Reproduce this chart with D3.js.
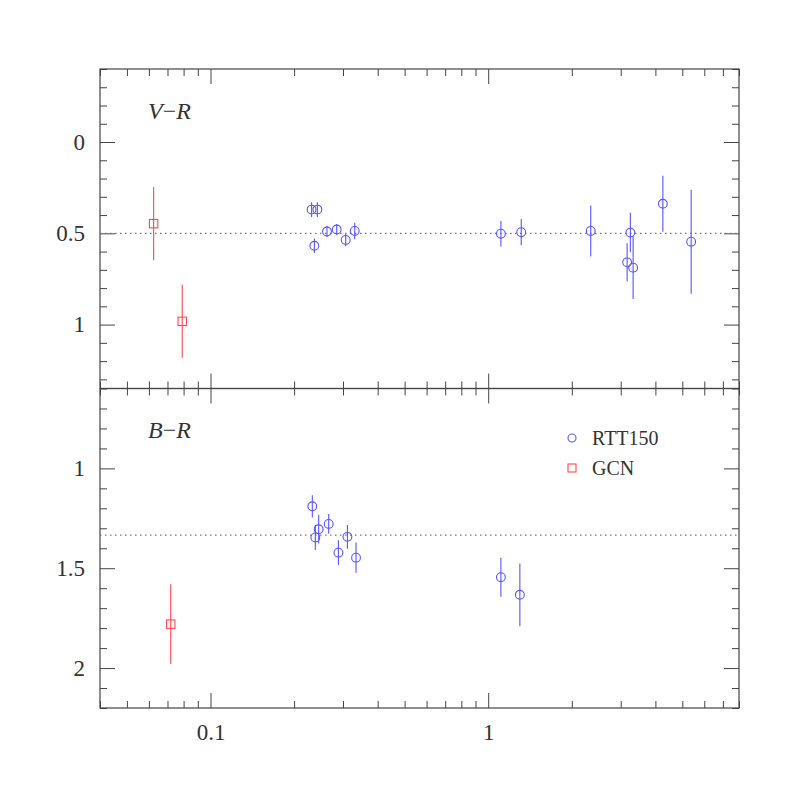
<!DOCTYPE html>
<html lang="en">
<head>
  <meta charset="UTF-8">
  <title>V-R and B-R colours</title>
  <style>
    body { margin: 0; background: #fff; }
    text { font-family: "Liberation Serif", "DejaVu Serif", "Times New Roman", serif; fill: #333; }
  </style>
</head>
<body>
  <svg id="chart" width="806" height="806"></svg>

  <script src="https://d3js.org/d3.v7.min.js"></script>

  <script>
    // ---- data ----
    // V-R panel
    var vrRttX   = [0.2312, 0.2425, 0.2366, 0.2627, 0.2847, 0.3068, 0.3306, 1.111, 1.315, 2.34, 3.25, 3.164, 3.325, 4.255, 5.38];
    var vrRttY   = [0.37, 0.37, 0.568, 0.49, 0.479, 0.536, 0.487, 0.502, 0.494, 0.487, 0.496, 0.659, 0.688, 0.338, 0.546];
    var vrRttErr = [0.04, 0.04, 0.04, 0.03, 0.03, 0.035, 0.045, 0.07, 0.072, 0.14, 0.108, 0.105, 0.172, 0.153, 0.285];
    var vrGcnX   = [0.0624, 0.0791];
    var vrGcnY   = [0.447, 0.982];
    var vrGcnErr = [0.2, 0.2];
    var vrMean   = 0.5;

    // B-R panel
    var brRttX   = [0.2326, 0.2385, 0.2452, 0.2664, 0.2888, 0.3112, 0.3342, 1.111, 1.30];
    var brRttY   = [1.19, 1.346, 1.305, 1.278, 1.422, 1.343, 1.447, 1.545, 1.633];
    var brRttErr = [0.056, 0.063, 0.071, 0.05, 0.062, 0.06, 0.076, 0.098, 0.157];
    var brGcnX   = [0.0719];
    var brGcnY   = [1.78];
    var brGcnErr = [0.2];
    var brMean   = 1.334;

    var legendLabels = ["RTT150", "GCN"];

    // ---- layout ----
    var svg = d3.select("#chart"),
      left = 100, right = 739,
      blue = "#5555ff", red = "#ff4a4a",
      font = "'Liberation Serif', 'DejaVu Serif', serif";

    var x = d3.scaleLog().domain([0.04, 8]).range([left, right]);

    var panels = [
      { name: ["V", "R"], top: 69, bottom: 388.5, domain: [-0.4, 1.35], major: 0.5,
        rttX: vrRttX, rttY: vrRttY, rttErr: vrRttErr,
        gcnX: vrGcnX, gcnY: vrGcnY, gcnErr: vrGcnErr, mean: vrMean, legend: false, xlabels: false },
      { name: ["B", "R"], top: 388.5, bottom: 708, domain: [0.6, 2.2], major: 0.5,
        rttX: brRttX, rttY: brRttY, rttErr: brRttErr,
        gcnX: brGcnX, gcnY: brGcnY, gcnErr: brGcnErr, mean: brMean, legend: true, xlabels: true }
    ];

    var xAll = x.ticks();
    var xMajor = xAll.filter(function(d) { return Math.abs(Math.log10(d) - Math.round(Math.log10(d))) < 1e-9; });
    var xMinor = xAll.filter(function(d) { return xMajor.indexOf(d) < 0; });

    function isMajor(v, step) {
      return Math.abs(v / step - Math.round(v / step)) < 1e-6;
    }

    function styleAxis(g) {
      g.attr("font-family", null);
      g.select(".domain").remove();
      g.selectAll("line").attr("stroke", "#444");
      g.selectAll("text").style("font-family", font).style("font-size", "23px")
        .attr("fill", "#333");
    }

    panels.forEach(function(p) {
      var y = d3.scaleLinear().domain(p.domain).range([p.top, p.bottom]);
      var yAll = y.ticks(18);
      var yMajor = yAll.filter(function(d) { return isMajor(d, p.major); });
      var yMinor = yAll.filter(function(d) { return !isMajor(d, p.major); });
      var g = svg.append("g");

      // axes: ticks pointing inward on all four sides
      g.append("g").attr("transform", "translate(" + left + ",0)")
        .call(d3.axisLeft(y).tickValues(yMajor).tickSize(-15).tickPadding(15).tickFormat(d3.format("")))
        .call(styleAxis);
      g.append("g").attr("transform", "translate(" + left + ",0)")
        .call(d3.axisLeft(y).tickValues(yMinor).tickSize(-7).tickFormat(""))
        .call(styleAxis);
      g.append("g").attr("transform", "translate(" + right + ",0)")
        .call(d3.axisRight(y).tickValues(yMajor).tickSize(-15).tickFormat(""))
        .call(styleAxis);
      g.append("g").attr("transform", "translate(" + right + ",0)")
        .call(d3.axisRight(y).tickValues(yMinor).tickSize(-7).tickFormat(""))
        .call(styleAxis);

      g.append("g").attr("transform", "translate(0," + p.bottom + ")")
        .call(d3.axisBottom(x).tickValues(xMajor).tickSize(-15).tickPadding(16)
          .tickFormat(p.xlabels ? d3.format("") : ""))
        .call(styleAxis);
      g.append("g").attr("transform", "translate(0," + p.bottom + ")")
        .call(d3.axisBottom(x).tickValues(xMinor).tickSize(-7).tickFormat(""))
        .call(styleAxis);
      g.append("g").attr("transform", "translate(0," + p.top + ")")
        .call(d3.axisTop(x).tickValues(xMajor).tickSize(-15).tickFormat(""))
        .call(styleAxis);
      g.append("g").attr("transform", "translate(0," + p.top + ")")
        .call(d3.axisTop(x).tickValues(xMinor).tickSize(-7).tickFormat(""))
        .call(styleAxis);

      // frame
      g.append("rect")
        .attr("x", left).attr("y", p.top)
        .attr("width", right - left).attr("height", p.bottom - p.top)
        .attr("fill", "none").attr("stroke", "#444").attr("stroke-width", 1.2);

      // mean colour, dotted
      g.append("line")
        .attr("x1", left).attr("x2", right)
        .attr("y1", y(p.mean)).attr("y2", y(p.mean))
        .attr("stroke", "#777").attr("stroke-width", 1.2)
        .attr("stroke-dasharray", "1.5,3.5");

      // panel label  V-R / B-R
      var lab = g.append("text")
        .attr("x", 148).attr("y", p.top + 49.5)
        .style("font-family", font)
        .style("font-size", "24px");
      lab.append("tspan").style("font-style", "italic").text(p.name[0]);
      lab.append("tspan").text("\u2212");
      lab.append("tspan").style("font-style", "italic").text(p.name[1]);

      // GCN: red squares with error bars
      var gcn = p.gcnX.map(function(d, i) { return { x: d, y: p.gcnY[i], e: p.gcnErr[i] }; });
      g.selectAll(".gcnerr").data(gcn).enter().append("line")
        .attr("x1", function(d) { return x(d.x); }).attr("x2", function(d) { return x(d.x); })
        .attr("y1", function(d) { return y(d.y - d.e); }).attr("y2", function(d) { return y(d.y + d.e); })
        .attr("stroke", red).attr("stroke-width", 1.1);
      g.selectAll(".gcnpt").data(gcn).enter().append("rect")
        .attr("x", function(d) { return x(d.x) - 4.2; }).attr("y", function(d) { return y(d.y) - 4.2; })
        .attr("width", 8.4).attr("height", 8.4)
        .attr("fill", "none").attr("stroke", red).attr("stroke-width", 1.1);

      // RTT150: blue circles with error bars
      var rtt = p.rttX.map(function(d, i) { return { x: d, y: p.rttY[i], e: p.rttErr[i] }; });
      g.selectAll(".rtterr").data(rtt).enter().append("line")
        .attr("x1", function(d) { return x(d.x); }).attr("x2", function(d) { return x(d.x); })
        .attr("y1", function(d) { return y(d.y - d.e); }).attr("y2", function(d) { return y(d.y + d.e); })
        .attr("stroke", blue).attr("stroke-width", 1.1);
      g.selectAll(".rttpt").data(rtt).enter().append("circle")
        .attr("cx", function(d) { return x(d.x); }).attr("cy", function(d) { return y(d.y); })
        .attr("r", 4.4)
        .attr("fill", "none").attr("stroke", blue).attr("stroke-width", 1.1);

      if (p.legend) {
        var lg = g.append("g").attr("transform", "translate(572,438)");
        lg.append("circle").attr("cx", 0).attr("cy", 0).attr("r", 4)
          .attr("fill", "none").attr("stroke", blue).attr("stroke-width", 1.1);
        lg.append("rect").attr("x", -4).attr("y", 26).attr("width", 8).attr("height", 8)
          .attr("fill", "none").attr("stroke", red).attr("stroke-width", 1.1);
        lg.selectAll(".lgtext").data(legendLabels).enter().append("text")
          .attr("x", 20).attr("y", function(d, i) { return 6.5 + i * 30; })
          .style("font-family", font)
          .style("font-size", "20px")
          .text(function(d) { return d; });
      }
    });
  </script>
</body>
</html>
